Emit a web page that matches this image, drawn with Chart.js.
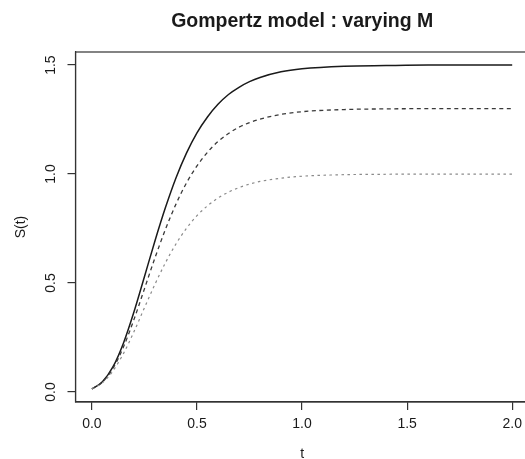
<!DOCTYPE html>
<html>
<head>
<meta charset="utf-8">
<script src="https://cdn.jsdelivr.net/npm/chart.js@4.4.0/dist/chart.umd.min.js"></script>
<style>
    html, body { margin: 0; padding: 0; overflow: hidden; background: #fff; }
    #wrap { width: 540px; height: 459px; }
</style>
</head>
<body>
<div id="wrap"><canvas id="gompertzChart" width="540" height="459"></canvas></div>
<script>
// values
const tValues = [0, 0.05, 0.1, 0.15, 0.2, 0.25, 0.3, 0.35, 0.4, 0.45, 0.5, 0.55, 0.6, 0.65, 0.7, 0.75, 0.8, 0.9, 1.0, 1.2, 1.4, 1.6, 1.8, 2.0];
const sM15 = [0.014, 0.047, 0.115, 0.224, 0.367, 0.529, 0.693, 0.846, 0.982, 1.096, 1.189, 1.262, 1.320, 1.365, 1.398, 1.424, 1.443, 1.469, 1.483, 1.495, 1.498, 1.5, 1.5, 1.5];
const sM13 = [0.014, 0.045, 0.108, 0.206, 0.332, 0.473, 0.615, 0.746, 0.862, 0.959, 1.037, 1.100, 1.149, 1.186, 1.215, 1.236, 1.252, 1.274, 1.286, 1.296, 1.299, 1.3, 1.3, 1.3];
const sM10 = [0.014, 0.042, 0.096, 0.176, 0.276, 0.386, 0.494, 0.593, 0.679, 0.751, 0.809, 0.854, 0.890, 0.917, 0.938, 0.954, 0.966, 0.981, 0.990, 0.997, 0.999, 1.0, 1.0, 1.0];

const xTicks = [0, 0.5, 1, 1.5, 2];
const yTicks = [0, 0.5, 1, 1.5];
const chartTitle = 'Gompertz model : varying M';

const FONT = '"Liberation Sans", Arial, Helvetica, sans-serif';
const INK = '#1a1a1a';
const AXIS = '#333';

function toPoints(ys) {
    return tValues.map((t, i) => ({ x: t, y: ys[i] }));
}

// R-style box, rotated y tick labels and main title
const rStylePlugin = {
    id: 'rStyle',
    afterDraw(chart) {
        const { ctx, chartArea: a, scales: { y } } = chart;
        ctx.save();
        ctx.strokeStyle = AXIS;
        ctx.lineWidth = 1.2;
        ctx.strokeRect(a.left, a.top, a.right - a.left, a.bottom - a.top);

        ctx.fillStyle = INK;
        ctx.textAlign = 'center';
        ctx.textBaseline = 'middle';
        ctx.font = '14px ' + FONT;
        yTicks.forEach(v => {
            ctx.save();
            ctx.translate(51, y.getPixelForValue(v));
            ctx.rotate(-Math.PI / 2);
            ctx.fillText(v.toFixed(1), 0, 0);
            ctx.restore();
        });

        ctx.font = 'bold 19.5px ' + FONT;
        ctx.fillText(chartTitle, (a.left + a.right) / 2, 22);
        ctx.restore();
    }
};

const ctx = document.getElementById('gompertzChart').getContext('2d');
new Chart(ctx, {
    type: 'line',
    data: {
        datasets: [{
            label: 'M = 1.0',
            data: toPoints(sM10),
            borderColor: '#8a8a8a',
            borderWidth: 1.2,
            borderDash: [2.5, 3.5]
        }, {
            label: 'M = 1.3',
            data: toPoints(sM13),
            borderColor: '#3a3a3a',
            borderWidth: 1.3,
            borderDash: [4, 3.5]
        }, {
            label: 'M = 1.5',
            data: toPoints(sM15),
            borderColor: '#1a1a1a',
            borderWidth: 1.5
        }]
    },
    options: {
        responsive: false,
        animation: false,
        parsing: false,
        elements: {
            point: { radius: 0 },
            line: { cubicInterpolationMode: 'monotone', fill: false }
        },
        layout: { padding: { top: 52, right: 11, left: 0, bottom: 0 } },
        plugins: {
            legend: { display: false },
            tooltip: { enabled: false }
        },
        scales: {
            x: {
                type: 'linear',
                min: -0.078,
                max: 2.08,
                afterBuildTicks: scale => { scale.ticks = xTicks.map(v => ({ value: v })); },
                afterFit: scale => { scale.height = 57; },
                grid: { drawOnChartArea: false, drawTicks: true, tickLength: 8, color: AXIS, lineWidth: 1.2 },
                border: { display: true, color: AXIS, width: 1.2 },
                ticks: {
                    color: INK,
                    font: { family: FONT, size: 14 },
                    padding: 6,
                    maxRotation: 0,
                    callback: v => v.toFixed(1)
                },
                title: {
                    display: true,
                    text: 't',
                    color: INK,
                    font: { family: FONT, size: 14 },
                    padding: { top: 0, bottom: -4 }
                }
            },
            y: {
                type: 'linear',
                min: -0.046,
                max: 1.56,
                afterBuildTicks: scale => { scale.ticks = yTicks.map(v => ({ value: v })); },
                afterFit: scale => { scale.width = 75.5; },
                grid: { drawOnChartArea: false, drawTicks: true, tickLength: 8, color: AXIS, lineWidth: 1.2 },
                border: { display: true, color: AXIS, width: 1.2 },
                ticks: { display: false },
                title: {
                    display: true,
                    text: 'S(t)',
                    color: INK,
                    font: { family: FONT, size: 14 },
                    padding: { top: 13, bottom: 0 }
                }
            }
        }
    },
    plugins: [rStylePlugin]
});
</script>
</body>
</html>
